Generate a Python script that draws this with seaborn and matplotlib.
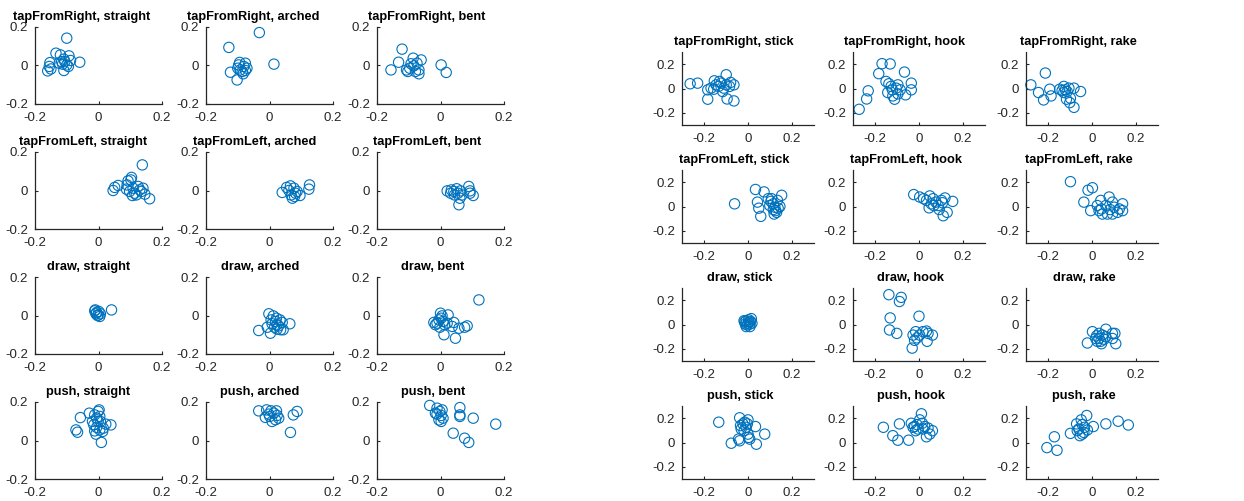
import matplotlib
matplotlib.use("Agg")
import matplotlib.pyplot as plt
import seaborn as sns
import pandas as pd

sns.set_style("white")
plt.rcParams['font.family'] = ['Liberation Sans', 'DejaVu Sans']

# ---------------- data: left group (straight / arched / bent) ----------------
trs_x = [-0.100,-0.134,-0.120,-0.093,-0.059,-0.088,-0.109,-0.106,-0.124,-0.153,-0.155,-0.160,-0.109,-0.100,-0.113,-0.095,-0.116,-0.150]
trs_y = [0.142,0.064,0.055,0.050,0.017,0.026,0.033,0.020,0.012,0.015,-0.005,-0.028,-0.026,0.003,0.007,-0.005,0.020,-0.018]
tra_x = [-0.032,-0.128,0.014,-0.123,-0.102,-0.097,-0.092,-0.081,-0.076,-0.086,-0.071,-0.100,-0.083,-0.076,-0.094]
tra_y = [0.171,0.094,0.007,-0.035,-0.075,0.003,-0.023,-0.005,0.012,-0.031,-0.014,-0.014,-0.043,-0.026,0.016]
trb_x = [-0.121,-0.132,-0.156,0.002,0.018,-0.061,-0.086,-0.097,-0.107,-0.103,-0.084,-0.074,-0.068,-0.079,-0.068,-0.093]
trb_y = [0.085,0.017,-0.023,0.003,-0.036,0.029,0.038,-0.014,-0.023,-0.031,-0.002,0.012,-0.023,-0.031,-0.043,0.009]

tls_x = [0.138,0.161,0.046,0.051,0.062,0.093,0.104,0.102,0.088,0.098,0.109,0.114,0.125,0.130,0.135,0.140,0.107,0.119,0.146,0.090]
tls_y = [0.133,-0.043,0.000,0.016,0.026,0.050,0.068,0.055,0.007,-0.005,0.012,-0.014,0.021,0.003,-0.005,0.012,-0.026,-0.023,-0.019,0.029]
tla_x = [0.126,0.124,0.040,0.054,0.061,0.068,0.077,0.082,0.072,0.087,0.096,0.066,0.079]
tla_y = [0.029,0.007,-0.010,0.016,0.000,-0.023,0.012,-0.014,-0.040,-0.005,-0.026,0.024,-0.031]
tlb_x = [0.058,0.089,0.093,0.103,0.093,0.021,0.034,0.042,0.051,0.055,0.063,0.044,0.068,0.032,0.061]
tlb_y = [-0.074,0.021,-0.002,-0.026,-0.014,-0.002,0.003,-0.005,0.009,-0.014,-0.002,-0.023,-0.023,-0.014,-0.040]

drs_x = [0.041,-0.012,-0.006,-0.001,0.004,-0.008,0.001,-0.003,0.006,-0.010]
drs_y = [0.029,0.024,0.016,0.003,-0.005,0.009,0.021,0.000,0.009,0.029]
dra_x = [-0.034,0.064,-0.002,0.003,-0.007,0.012,0.005,0.019,0.024,0.033,0.040,0.035,0.024,0.016,0.029,0.043,0.022,0.008]
dra_y = [-0.078,-0.043,0.009,-0.092,-0.061,-0.002,-0.023,-0.031,-0.048,-0.023,-0.036,-0.074,-0.071,-0.061,-0.054,-0.074,-0.014,-0.043]
drb_x = [0.121,0.000,0.024,0.011,0.047,0.058,0.084,0.076,0.042,-0.016,-0.011,-0.005,0.002,0.008,0.013,-0.002,0.021,0.037,-0.021,0.005]
drb_y = [0.081,0.012,0.003,-0.100,-0.118,-0.066,-0.054,-0.061,-0.036,-0.048,-0.040,-0.023,-0.014,-0.031,-0.048,-0.061,-0.040,-0.057,-0.036,-0.002]

pus_x = [0.009,0.039,-0.057,-0.071,-0.066,-0.029,0.002,-0.012,-0.006,0.004,-0.001,-0.015,-0.006,0.004,-0.012,0.013,0.015,-0.019,0.023,0.006,-0.001,-0.008]
pus_y = [-0.010,0.081,0.119,0.055,0.043,0.142,0.159,0.133,0.116,0.125,0.099,0.081,0.068,0.055,0.050,0.047,0.064,0.099,0.085,0.099,0.151,0.033]
pua_x = [0.066,0.087,0.075,-0.034,-0.009,0.005,0.014,0.024,0.001,-0.013,0.019,0.029,0.008,-0.002,0.022]
pua_y = [0.042,0.151,0.133,0.154,0.159,0.154,0.142,0.130,0.125,0.120,0.108,0.116,0.099,0.137,0.154]
pub_x = [-0.034,0.174,0.103,0.061,0.061,0.061,0.040,0.076,0.089,-0.011,-0.002,0.005,-0.016,0.002,0.008,-0.005,0.002,-0.011]
pub_y = [0.182,0.085,0.116,0.171,0.133,0.125,0.038,0.012,-0.010,0.168,0.151,0.159,0.142,0.130,0.116,0.107,0.099,0.137]

# ---------------- data: right group (stick / hook / rake) ----------------
rts_x = [-0.263,-0.229,-0.183,-0.095,-0.064,-0.099,-0.064,-0.183,-0.168,-0.153,-0.145,-0.134,-0.122,-0.110,-0.099,-0.084,-0.079,-0.115,-0.156,-0.130]
rts_y = [0.039,0.044,-0.088,-0.086,-0.102,0.113,0.030,-0.011,0.003,0.063,0.030,0.017,0.044,0.003,0.030,0.017,0.050,-0.025,-0.006,0.058]
rth_x = [-0.272,-0.238,-0.231,-0.183,-0.168,-0.131,-0.066,-0.035,-0.035,-0.150,-0.137,-0.127,-0.142,-0.119,-0.111,-0.096,-0.085,-0.061,-0.096,-0.121,-0.104]
rth_y = [-0.171,-0.086,-0.019,0.122,0.204,0.202,0.135,0.044,-0.011,0.058,0.039,0.017,-0.033,-0.061,-0.088,-0.044,-0.011,-0.052,0.030,-0.011,0.003]
rtr_x = [-0.278,-0.212,-0.243,-0.220,-0.192,-0.186,-0.147,-0.052,-0.082,-0.082,-0.101,-0.128,-0.121,-0.113,-0.128,-0.105,-0.116,-0.098,-0.136]
rtr_y = [0.030,0.127,-0.033,-0.094,-0.006,-0.061,-0.006,-0.025,0.003,-0.155,-0.116,0.017,-0.011,-0.025,-0.033,0.003,-0.088,-0.080,-0.017]

rls_x = [-0.061,0.034,0.073,0.043,0.049,0.058,0.153,0.092,0.104,0.115,0.122,0.137,0.130,0.115,0.099,0.107,0.125,0.134,0.145,0.119]
rls_y = [0.022,0.140,0.120,0.036,-0.014,-0.081,0.092,0.064,0.042,0.022,-0.006,-0.014,-0.048,-0.025,0.008,0.064,-0.034,0.050,0.000,-0.062]
rlh_x = [-0.024,0.046,0.110,0.128,0.153,0.003,0.021,0.034,0.049,0.064,0.076,0.087,0.102,0.118,0.067,0.092,0.056,0.107]
rlh_y = [0.098,-0.011,-0.076,-0.048,0.042,0.078,0.064,0.050,0.087,0.064,0.036,0.008,0.050,0.070,0.008,-0.025,0.022,0.031]
rlr_x = [-0.098,-0.018,0.002,-0.037,-0.006,0.040,0.078,0.093,0.139,0.139,0.024,0.043,0.063,0.082,0.101,0.116,0.070,0.047,0.124,0.032,0.093]
rlr_y = [0.204,0.134,0.154,0.036,-0.034,0.050,0.078,0.036,0.022,-0.034,0.008,-0.020,0.008,-0.025,-0.006,-0.048,-0.062,-0.062,-0.020,-0.034,-0.062]

rds_x = [-0.015,-0.008,0.003,0.012,0.008,-0.003,-0.012,0.015,0.000,-0.008,0.009,-0.018,0.005,0.018]
rds_y = [0.020,0.031,0.039,0.025,0.003,-0.003,0.003,0.048,0.011,-0.017,-0.017,0.031,0.020,0.011]
rdh_x = [-0.137,-0.081,-0.089,-0.131,-0.134,-0.101,0.000,-0.031,-0.027,-0.015,-0.020,-0.009,0.018,0.034,0.041,0.061,0.037,0.003]
rdh_y = [0.245,0.223,0.189,0.054,-0.045,-0.073,0.068,-0.194,-0.087,-0.059,-0.130,-0.110,-0.059,-0.054,-0.073,-0.087,-0.138,-0.087]
rdr_x = [-0.021,0.002,0.063,0.093,0.093,0.108,0.104,0.021,0.032,0.040,0.047,0.055,0.024,0.043,0.063,0.032,0.017]
rdr_y = [-0.152,-0.059,-0.039,-0.073,-0.115,-0.158,-0.073,-0.093,-0.115,-0.138,-0.087,-0.121,-0.138,-0.158,-0.101,-0.073,-0.115]

rps_x = [-0.133,-0.076,0.038,0.076,0.034,-0.038,0.000,-0.043,-0.038,-0.023,-0.015,-0.008,-0.031,0.000,0.003,0.008,-0.018,-0.034,-0.003]
rps_y = [0.167,-0.006,-0.014,0.069,0.131,0.203,0.186,0.028,0.014,0.153,0.167,0.125,0.111,0.069,0.042,0.028,0.097,0.139,0.153]
rph_x = [-0.162,-0.119,-0.096,-0.089,-0.047,0.011,0.034,0.061,0.049,-0.035,-0.027,-0.015,-0.009,0.003,0.015,-0.020,-0.005,0.026,0.041,0.018]
rph_y = [0.125,0.056,0.019,0.153,0.019,0.236,0.047,0.097,0.069,0.158,0.125,0.097,0.147,0.186,0.158,0.131,0.111,0.131,0.119,0.111]
rpr_x = [-0.205,-0.171,-0.159,-0.098,-0.024,0.165,0.119,0.063,0.006,-0.070,-0.060,-0.049,-0.044,-0.037,-0.055,-0.034,-0.021,-0.067,-0.044]
rpr_y = [-0.042,0.047,-0.064,0.075,0.222,0.144,0.175,0.153,0.131,0.153,0.111,0.186,0.147,0.083,0.056,0.125,0.103,0.097,0.069]

actions = ["tapFromRight", "tapFromLeft", "draw", "push"]
left_tools = ["straight", "arched", "bent"]
right_tools = ["stick", "hook", "rake"]
left_ticks = [-0.2, 0, 0.2]
right_ticks = [-0.2, 0, 0.2]
tick_labels = ["-0.2", "0", "0.2"]

left_data = [
    [(trs_x, trs_y), (tra_x, tra_y), (trb_x, trb_y)],
    [(tls_x, tls_y), (tla_x, tla_y), (tlb_x, tlb_y)],
    [(drs_x, drs_y), (dra_x, dra_y), (drb_x, drb_y)],
    [(pus_x, pus_y), (pua_x, pua_y), (pub_x, pub_y)],
]
right_data = [
    [(rts_x, rts_y), (rth_x, rth_y), (rtr_x, rtr_y)],
    [(rls_x, rls_y), (rlh_x, rlh_y), (rlr_x, rlr_y)],
    [(rds_x, rds_y), (rdh_x, rdh_y), (rdr_x, rdr_y)],
    [(rps_x, rps_y), (rph_x, rph_y), (rpr_x, rpr_y)],
]

W, H = 1244, 501
fig = plt.figure(figsize=(W / 100, H / 100), dpi=100)
BLUE = "#0072BD"
AXC = "#262626"
all_axes = []


def px_axes(left, top, width, height):
    return fig.add_axes([left / W, 1 - (top + height) / H, width / W, height / H])


def style(ax, lim, ticks, title, pad):
    ax.set_xlim(lim)
    ax.set_ylim(lim)
    ax.set_xticks(ticks)
    ax.set_yticks(ticks)
    ax.set_xticklabels(tick_labels)
    ax.set_yticklabels(tick_labels)
    for s in ["top", "right"]:
        ax.spines[s].set_visible(False)
    for s in ["left", "bottom"]:
        ax.spines[s].set_color(AXC)
        ax.spines[s].set_linewidth(0.9)
    ax.tick_params(direction="in", length=2.5, width=0.8, color=AXC,
                   labelsize=9.5, labelcolor=AXC, left=True, bottom=True)
    ax.tick_params(axis="x", pad=6)
    ax.tick_params(axis="y", pad=5)
    ax.set_xlabel("")
    ax.set_ylabel("")
    ax.set_title(title, fontsize=9.2, fontweight="bold", pad=pad, color="black")
    all_axes.append(ax)


def draw(ax, xs, ys):
    df = pd.DataFrame({"x": xs, "y": ys})
    sns.scatterplot(data=df, x="x", y="y", ax=ax, marker="o", s=55,
                    facecolor="none", edgecolor=BLUE, linewidth=0.8,
                    legend=False, clip_on=False)


left_cols = [35, 206, 377]
left_rows = [27, 152, 277, 402]
for r, act in enumerate(actions):
    for c, tool in enumerate(left_tools):
        ax = px_axes(left_cols[c], left_rows[r], 127, 77)
        xs, ys = left_data[r][c]
        draw(ax, xs, ys)
        style(ax, (-0.2, 0.2), left_ticks, f"{act}, {tool}", 5)

right_cols = [682, 853, 1026]
right_rows = [52, 170, 288, 406]
for r, act in enumerate(actions):
    for c, tool in enumerate(right_tools):
        ax = px_axes(right_cols[c], right_rows[r], 132, 73)
        xs, ys = right_data[r][c]
        draw(ax, xs, ys)
        style(ax, (-0.3, 0.3), right_ticks, f"{act}, {tool}", 5)

# titles in the reference sit slightly left of centre (shift ~12% of their width)
fig.canvas.draw()
renderer = fig.canvas.get_renderer()
for ax in all_axes:
    t = ax.title
    tw = t.get_window_extent(renderer).width
    aw = ax.get_window_extent(renderer).width
    t.set_x(0.5 - 0.12 * tw / aw)

fig.savefig("out.png", dpi=100, facecolor="white")
